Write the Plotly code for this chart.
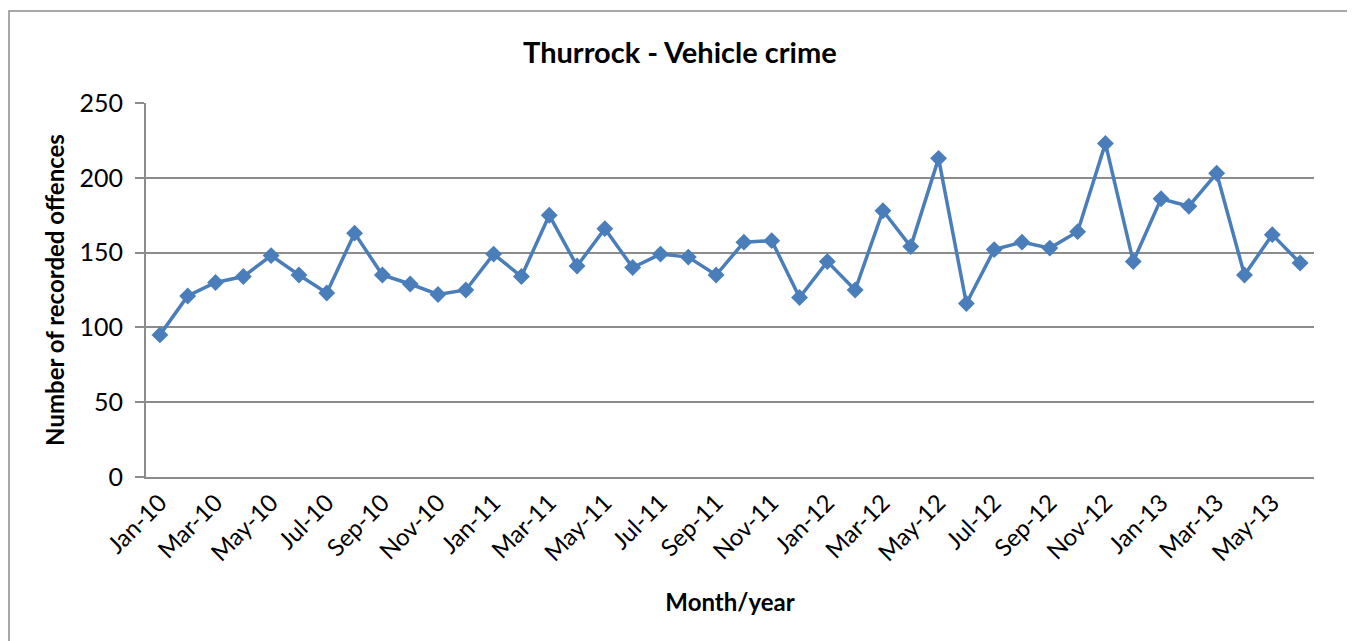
import plotly.graph_objects as go

months = ["Jan-10","Feb-10","Mar-10","Apr-10","May-10","Jun-10","Jul-10","Aug-10","Sep-10","Oct-10","Nov-10","Dec-10",
          "Jan-11","Feb-11","Mar-11","Apr-11","May-11","Jun-11","Jul-11","Aug-11","Sep-11","Oct-11","Nov-11","Dec-11",
          "Jan-12","Feb-12","Mar-12","Apr-12","May-12","Jun-12","Jul-12","Aug-12","Sep-12","Oct-12","Nov-12","Dec-12",
          "Jan-13","Feb-13","Mar-13","Apr-13","May-13","Jun-13"]
offences = [95,121,130,134,148,135,123,163,135,129,122,125,
            149,134,175,141,166,140,149,147,135,157,158,120,
            144,125,178,154,213,116,152,157,153,164,223,144,
            186,181,203,135,162,143]
tick_labels = months[::2]
y_ticks = [0, 50, 100, 150, 200, 250]

# page body has an 8px margin; work in reference pixel coords shifted by it
OFF = 8
W, H = 1355 - OFF, 641 - OFF
L = 146 - OFF
T = 103 - OFF
R = W - (1314 - OFF)
B = H - (477 - OFF)
pw, ph = W - L - R, H - T - B

def px2x(px):
    return (px - OFF - L) / pw

def py2y(py):
    return (H - B - (py - OFF)) / ph

FONT = "Lato"

fig = go.Figure()
fig.add_trace(go.Scatter(
    x=months, y=offences, mode="lines+markers",
    line=dict(color="#4a7ebb", width=3.5),
    marker=dict(symbol="diamond", size=13, color="#4a7ebb"),
    cliponaxis=False,
))

fig.update_layout(
    width=W, height=H,
    margin=dict(l=L, r=R, t=T, b=B),
    paper_bgcolor="white", plot_bgcolor="white",
    showlegend=False,
    font=dict(family=FONT, color="black"),
    xaxis=dict(
        type="category", categoryorder="array", categoryarray=months,
        range=[-0.5, len(months) - 0.5],
        tickmode="array", tickvals=tick_labels, ticktext=tick_labels,
        tickangle=-45, tickfont=dict(size=24, family=FONT),
        showgrid=False, showline=True, linecolor="#8c8c8c", linewidth=2,
        ticks="", zeroline=False,
        title=dict(text="<b>Month/year</b>", font=dict(size=24, family=FONT), standoff=29),
    ),
    yaxis=dict(
        range=[0, 250], tickvals=y_ticks,
        tickfont=dict(size=25, family=FONT),
        showgrid=True, gridcolor="#8c8c8c", gridwidth=1.5,
        showline=True, linecolor="#8c8c8c", linewidth=2,
        ticks="outside", ticklen=9, tickcolor="#8c8c8c", tickwidth=1.5,
        ticklabelstandoff=7,
        zeroline=False,
        title=dict(text="<b>Number of recorded offences</b>", font=dict(size=24, family=FONT), standoff=8),
    ),
    annotations=[dict(
        text="<b>Thurrock - Vehicle crime</b>", x=px2x(680), y=py2y(51),
        xref="paper", yref="paper", showarrow=False,
        xanchor="center", yanchor="middle",
        font=dict(size=29, family=FONT, color="black"),
    )],
    shapes=[dict(
        type="rect", xref="paper", yref="paper",
        x0=px2x(9), x1=px2x(1352), y0=py2y(660), y1=py2y(11),
        line=dict(color="#8c8c8c", width=1.5), layer="below",
    )],
)

fig.write_html("out.html")
